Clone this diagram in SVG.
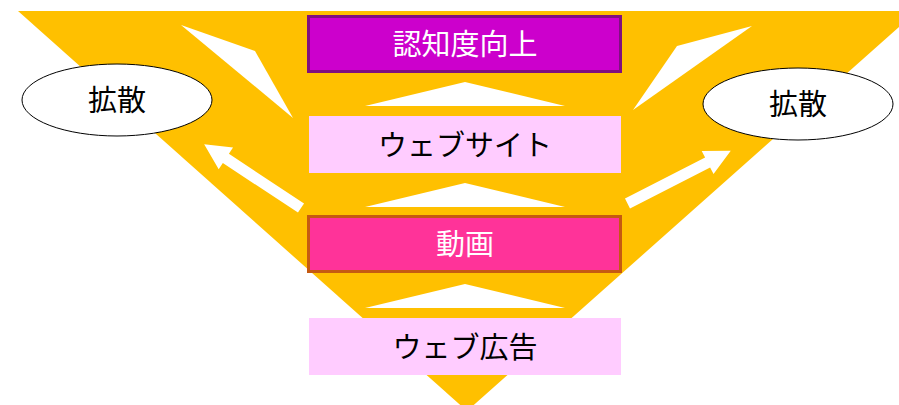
<svg xmlns="http://www.w3.org/2000/svg" width="899" height="405" viewBox="0 0 899 405">
<style>
.t{font-family:"Noto Sans CJK JP","Noto Sans",sans-serif;font-size:29px;text-anchor:middle}
.w{fill:#FFFFFF}
.k{fill:#000000}
.pale{fill:#FFCCFF}
.wh{fill:#FFFFFF}
.ell{fill:#FFFFFF;stroke:#000000;stroke-width:1}
</style>
<defs>
<polygon id="arr" points="0,-5.5 90,-5.5 90,-13 116,0 90,13 90,5.5 0,5.5"/>
</defs>
<rect width="899" height="405" fill="#FFFFFF"/>
<polygon id="funnel" points="18,11 917,11 467,411" fill="#FFC000"/>
<g id="connectors">
<polygon class="wh" points="181,25 255,51 293,118"/>
<polygon class="wh" points="752,26 677,46 633,110"/>
<polygon class="wh" points="365,106 465,82 565,106"/>
<polygon class="wh" points="365,207 465,183 565,207"/>
<polygon class="wh" points="365,308 465,284 565,308"/>
<use href="#arr" class="wh" transform="translate(301,208) rotate(213.4)"/>
<use href="#arr" class="wh" transform="translate(627.5,203.5) rotate(-27.1)"/>
</g>
<g id="node-awareness">
<rect x="308.5" y="16.5" width="312" height="55" fill="#CC00CC" stroke="#7F0F7F" stroke-width="3"/>
<text class="t w" x="465" y="54.5">認知度向上</text>
</g>
<g id="node-website">
<rect class="pale" x="309" y="116" width="312" height="57"/>
<text class="t k" x="465" y="155.5">ウェブサイト</text>
</g>
<g id="node-video">
<rect x="308.5" y="216.5" width="312" height="55" fill="#FF3399" stroke="#C55A11" stroke-width="3"/>
<text class="t w" x="465" y="254.5">動画</text>
</g>
<g id="node-webad">
<rect class="pale" x="309" y="318" width="312" height="57"/>
<text class="t k" x="465" y="357.5">ウェブ広告</text>
</g>
<g id="node-spread-left">
<ellipse class="ell" cx="117" cy="100" rx="95" ry="36"/>
<text class="t k" x="117" y="110.5">拡散</text>
</g>
<g id="node-spread-right">
<ellipse class="ell" cx="798" cy="104" rx="95" ry="36"/>
<text class="t k" x="798" y="114.5">拡散</text>
</g>
</svg>
